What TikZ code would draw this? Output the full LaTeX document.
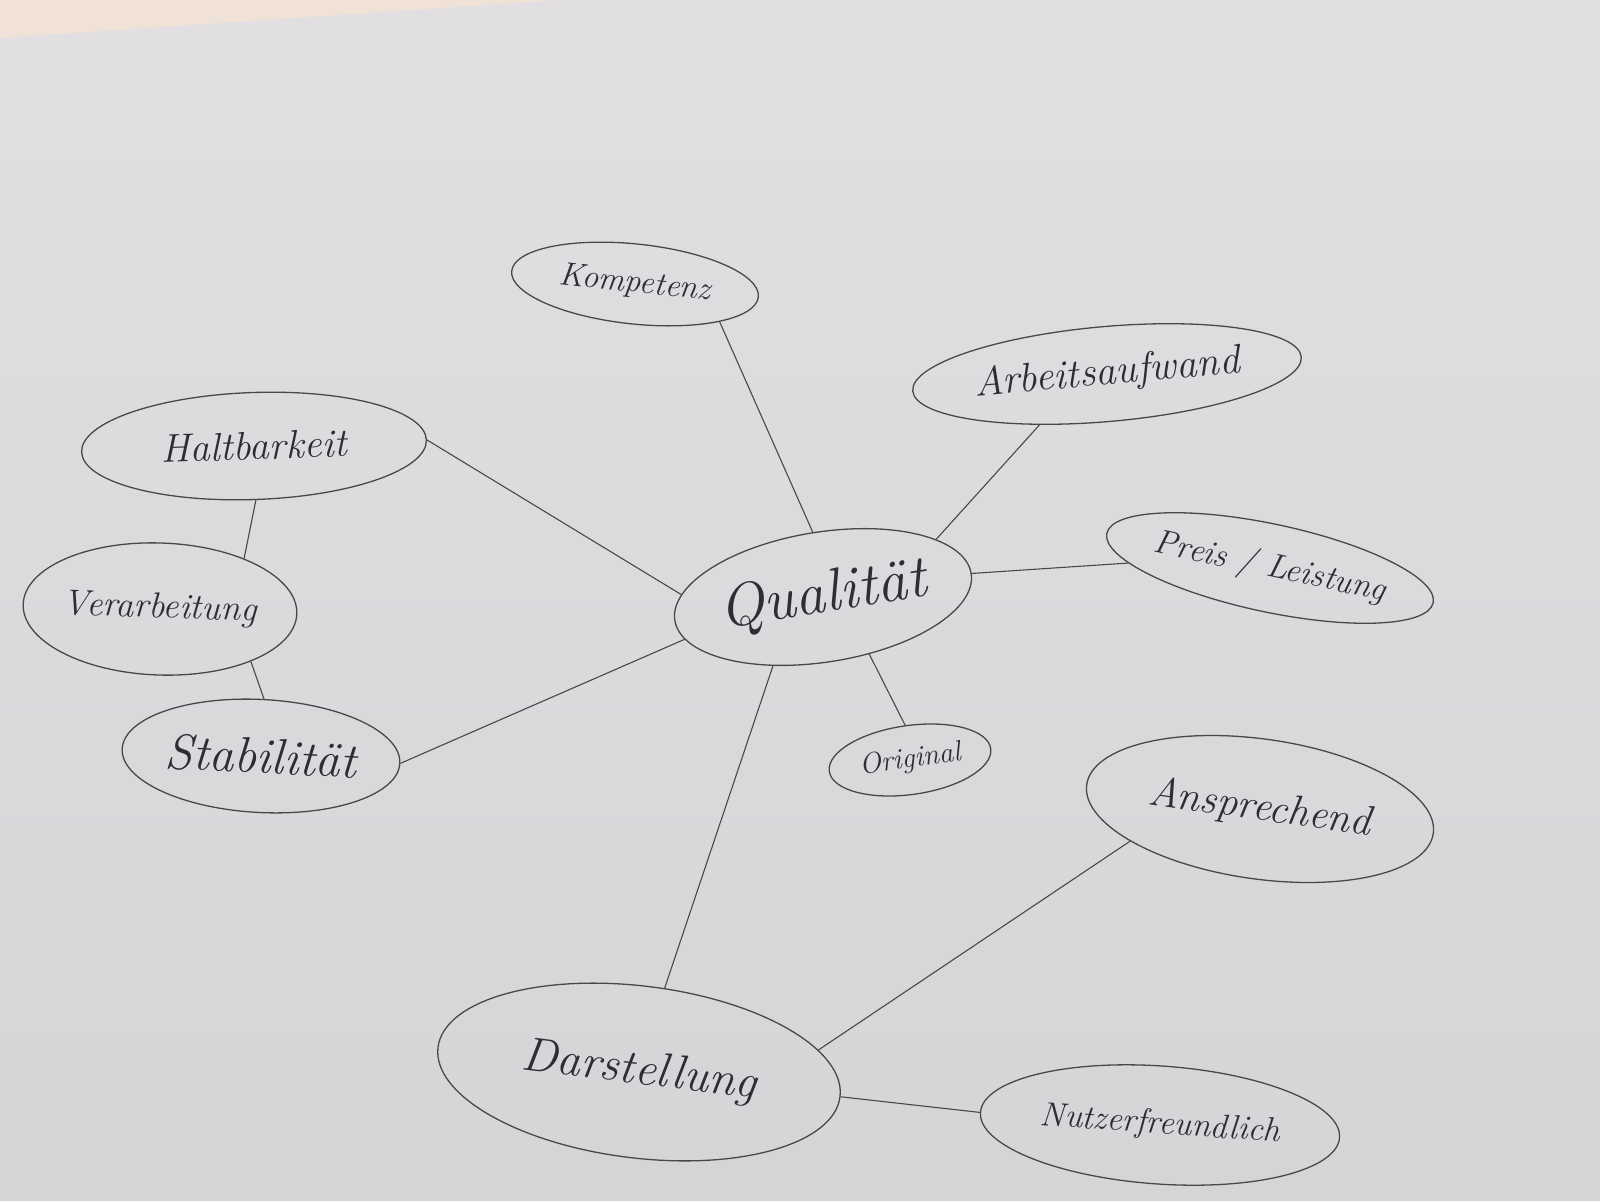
\documentclass[tikz,border=0pt]{standalone}
\usetikzlibrary{shapes.geometric}
\definecolor{paper}{RGB}{225,223,226}
\definecolor{paperdark}{RGB}{214,212,215}
\definecolor{peach}{RGB}{240,226,214}
\definecolor{pencil}{RGB}{72,72,75}
\definecolor{ink}{RGB}{45,45,50}
\tikzset{
  bubble/.style={ellipse, draw=pencil, line width=1.3pt, inner sep=0pt, text=ink, font=\itshape},
  link/.style={draw=pencil, line width=1.1pt},
}
\newcommand{\fs}[1]{\fontsize{#1}{#1}\selectfont}
\begin{document}
\begin{tikzpicture}[x=1pt,y=-1pt]
\useasboundingbox (0,0) rectangle (1600,1200);
\shade[top color=paper, bottom color=paperdark] (0,0) rectangle (1600,1200);
\fill[peach] (0,0) -- (560,0) -- (0,38) -- cycle;

\node[bubble, minimum width=248, minimum height=80, rotate=-6] (komp) at (635,284) {\fs{33}Kompetenz};
\node[bubble, minimum width=390, minimum height=95, rotate=5] (arb) at (1107,374) {\fs{41}Arbeitsaufwand};
\node[bubble, minimum width=345, minimum height=107, rotate=2] (halt) at (254,446) {\fs{40}Haltbarkeit};
\node[bubble, minimum width=254, minimum height=132, rotate=-2] (verarb) at (160,609) {\fs{36}Verarbeitung};
\node[bubble, minimum width=278, minimum height=113, rotate=-3] (stab) at (261,756) {\fs{50}Stabilität};
\node[bubble, minimum width=300, minimum height=130, rotate=9] (qual) at (823,597) {\fs{60}Qualität};
\node[bubble, minimum width=300, minimum height=88, rotate=-12] (preis) at (1270,568) {\fs{34}Preis / Leistung};
\node[bubble, minimum width=163, minimum height=69, rotate=8] (orig) at (910,760) {\fs{29}Original};
\node[bubble, minimum width=350, minimum height=140, rotate=-8] (ansp) at (1260,809) {\fs{42}Ansprechend};
\node[bubble, minimum width=405, minimum height=172, rotate=-7] (darst) at (639,1072) {\fs{48}Darstellung};
\node[bubble, minimum width=360, minimum height=118, rotate=-4] (nutz) at (1160,1125) {\fs{34}Nutzerfreundlich};

\draw[link] (komp.south east) -- (qual.north);
\draw[link] (arb.212) -- (qual.18);
\draw[link] (preis.190) -- (qual.east);
\draw[link] (orig.north) -- (qual.300);
\draw[link] (halt.east) -- (qual.170);
\draw[link] (stab.east) -- (qual.188);
\draw[link] (darst.80) -- (qual.225);
\draw[link] (halt.south) -- (verarb.33);
\draw[link] (verarb.-28) -- (stab.north);
\draw[link] (darst.14) -- (ansp.south west);
\draw[link] (darst.east) -- (nutz.west);
\end{tikzpicture}
\end{document}
